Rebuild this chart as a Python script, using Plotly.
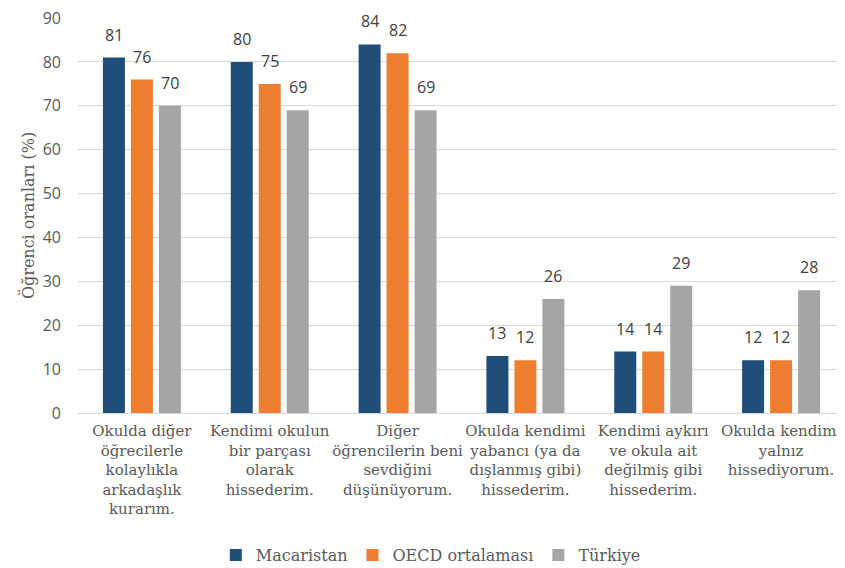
import plotly.graph_objects as go

categories = [
    "Okulda diğer<br>öğrecilerle<br>kolaylıkla<br>arkadaşlık<br>kurarım.",
    "Kendimi okulun<br>bir parçası<br>olarak<br>hissederim.",
    "Diğer<br>öğrencilerin beni<br>sevdiğini<br>düşünüyorum.",
    "Okulda kendimi<br>yabancı (ya da<br>dışlanmış gibi)<br>hissederim.",
    "Kendimi aykırı<br>ve okula ait<br>değilmiş gibi<br>hissederim.",
    "Okulda kendimi<br>yalnız<br>hissediyorum.",
]
macaristan = [81, 80, 84, 13, 14, 12]
oecd = [76, 75, 82, 12, 14, 12]
turkiye = [70, 69, 69, 26, 29, 28]
series_names = ["Macaristan", "OECD ortalaması", "Türkiye"]
colors = ["#1f4e79", "#ed7d31", "#a5a5a5"]
y_ticks = [0, 10, 20, 30, 40, 50, 60, 70, 80, 90]

serif = "DejaVu Serif"
sans = "Open Sans"
bargap = 0.343
slot = (1 - bargap) / 3

fig = go.Figure()
all_vals = [macaristan, oecd, turkiye]
for name, vals, col in zip(series_names, all_vals, colors):
    fig.add_trace(go.Bar(
        x=categories, y=vals, name=name,
        marker=dict(color=col, line=dict(width=0)),
    ))

annotations = []
for i, vals in enumerate(all_vals):
    for j, v in enumerate(vals):
        annotations.append(dict(
            x=j + (i - 1) * slot, y=v, xref="x", yref="y",
            text=str(v), showarrow=False, yanchor="bottom", yshift=10,
            font=dict(family=sans, size=16, color="#404040"),
        ))

fig.update_layout(
    width=837, height=560,
    paper_bgcolor="white", plot_bgcolor="white",
    margin=dict(l=70, r=0, t=10, b=155),
    barmode="group", bargap=bargap, bargroupgap=0.214,
    showlegend=True,
    legend=dict(orientation="h", x=0.46, xanchor="center", xref="paper",
                y=0.023, yanchor="middle", yref="container",
                font=dict(family=serif, size=16, color="#595959"),
                tracegroupgap=0),
    annotations=annotations,
)
fig.update_xaxes(
    tickfont=dict(family=serif, size=15, color="#595959"),
    showline=True, linecolor="#d9d9d9", linewidth=1,
    ticks="", tickangle=0, automargin=False, ticklabelstandoff=4,
)
fig.update_yaxes(
    range=[0, 90.02], tickvals=y_ticks,
    tickfont=dict(family=sans, size=16, color="#595959"),
    showgrid=True, gridcolor="#d9d9d9", gridwidth=1,
    zeroline=False, showline=False, ticks="", automargin=False,
    ticklabelstandoff=16, ticklabeloverflow="allow",
    title=dict(text="Öğrenci oranları (%)", font=dict(family=serif, size=16, color="#595959"), standoff=4),
)

fig.write_html("out.html")
